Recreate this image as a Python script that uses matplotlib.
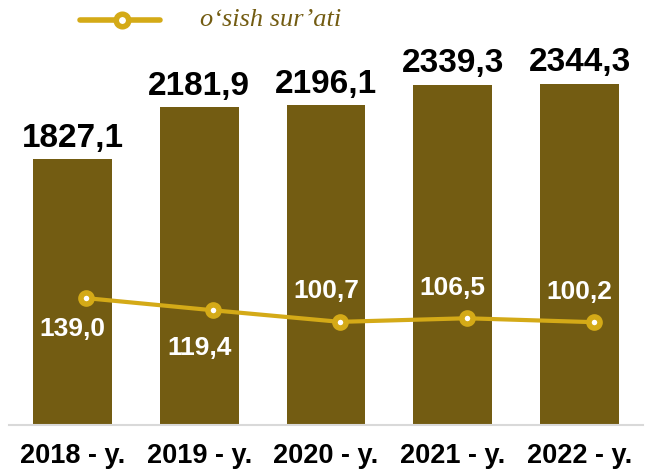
import matplotlib.pyplot as plt

# data
years = ["2018 - y.", "2019 - y.", "2020 - y.", "2021 - y.", "2022 - y."]
volume = [1827.1, 2181.9, 2196.1, 2339.3, 2344.3]
growth = [139.0, 119.4, 100.7, 106.5, 100.2]
growth_label_pos = ["below", "below", "above", "above", "above"]

bar_color = "#735C12"
line_color = "#D4AA17"

plt.rcParams['font.family'] = ['Liberation Sans', 'DejaVu Sans']

fig = plt.figure(figsize=(6.45, 4.71), dpi=100)
ax = fig.add_axes([9 / 645, 46 / 471, 634 / 645, 422 / 471])

x = list(range(len(years)))
bars = ax.bar(x, volume, width=0.62, color=bar_color, zorder=2)
ax.set_xlim(-0.5, len(years) - 0.5)
ax.set_ylim(0, 2900)

for xi, v in zip(x, volume):
    ax.annotate(f"{v:.1f}".replace(".", ","), (xi, v), xytext=(0, 4),
                textcoords="offset points", ha="center", va="bottom",
                fontsize=24, fontweight="bold", color="black")

ax.set_xticks(x)
ax.set_xticklabels(years, fontsize=19.5, fontweight="bold")
ax.tick_params(axis="x", length=0, pad=13)
ax.set_yticks([])
for s in ["top", "right", "left"]:
    ax.spines[s].set_visible(False)
ax.spines["bottom"].set_color("#D9D9D9")
ax.spines["bottom"].set_linewidth(1.5)

# growth line on secondary axis (markers sit a little right of bar centres)
ax2 = ax.twinx()
ax2.set_ylim(-66, 616)
ax2.set_yticks([])
for s in ax2.spines.values():
    s.set_visible(False)
shift = 0.11
ax2.plot([xi + shift for xi in x], growth, color=line_color, lw=3, marker="o", ms=8,
         mfc="white", mec=line_color, mew=4, zorder=3)

for xi, g, pos in zip(x, growth, growth_label_pos):
    dy = 22 if pos == "above" else -22
    if xi == 1:
        dy = -27
    ax2.annotate(f"{g:.1f}".replace(".", ","), (xi, g), xytext=(0, dy),
                 textcoords="offset points", ha="center", va="center",
                 fontsize=19, fontweight="bold", color="white")

# legend drawn in figure coords
fig.lines.append(plt.Line2D([80 / 645, 160 / 645], [1 - 20 / 471] * 2,
                            transform=fig.transFigure, color=line_color, lw=4,
                            solid_capstyle="round"))
fig.lines.append(plt.Line2D([122 / 645], [1 - 20 / 471], transform=fig.transFigure,
                            marker="o", ms=9, mfc="white", mec=line_color, mew=4))
fig.text(200 / 645, 1 - 20 / 471, "o‘sish sur’ati", family=["Liberation Serif", "DejaVu Serif"],
         style="italic", fontsize=19, color=bar_color, ha="left", va="center")

fig.savefig("out.png", dpi=100)
